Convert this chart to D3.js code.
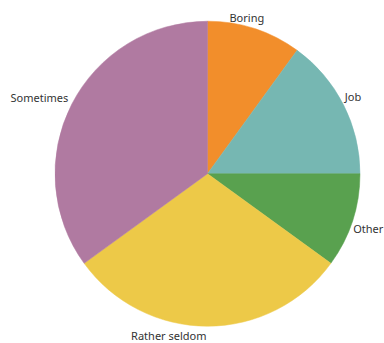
<!DOCTYPE html>
<html>
<head>
<meta charset="utf-8">
<script src="https://cdn.jsdelivr.net/npm/d3@7"></script>
<style>
  html, body { margin: 0; padding: 0; background: #fff; }
  svg { display: block; }
</style>
</head>
<body>
<svg id="chart" width="384" height="343"></svg>
<script>
// Answer categories, in drawing order (clockwise from 12 o'clock)
const categories = ["Boring", "Job", "Other", "Rather seldom", "Sometimes"];
// Share of answers, percent
const shares = [10, 15, 10, 30, 35];
// Slice colours (Tableau 10)
const colors = ["#f28e2b", "#76b7b2", "#59a14f", "#edc948", "#b07aa1"];
// Label anchoring and small nudges so labels clear the rim
const labelAnchor = ["start", "start", "start", "end", "end"];
const labelNudge = [[-27, -1], [-4, -1], [-5, 10], [-1, 8], [2, 0]];

const width = 384, height = 343;
const cx = 207.5, cy = 173.7, radius = 152.5;

const svg = d3.select("#chart");
const g = svg.append("g").attr("transform", `translate(${cx},${cy})`);

const data = categories.map((c, i) => ({ name: c, value: shares[i], color: colors[i], i }));

const pie = d3.pie().sort(null).value(d => d.value);
const arc = d3.arc().innerRadius(0).outerRadius(radius);
const arcs = pie(data);

g.selectAll("path.slice")
  .data(arcs)
  .join("path")
  .attr("class", "slice")
  .attr("d", arc)
  .attr("fill", d => d.data.color)
  .attr("stroke", d => d.data.color)
  .attr("stroke-width", 0.5);

// Labels just outside the rim at each slice's mid-angle
const labelR = radius + 6;
g.selectAll("text.label")
  .data(arcs)
  .join("text")
  .attr("class", "label")
  .attr("x", d => {
    const a = (d.startAngle + d.endAngle) / 2;
    return Math.sin(a) * labelR + labelNudge[d.data.i][0];
  })
  .attr("y", d => {
    const a = (d.startAngle + d.endAngle) / 2;
    return -Math.cos(a) * labelR + labelNudge[d.data.i][1];
  })
  .attr("text-anchor", d => labelAnchor[d.data.i])
  .attr("font-family", "'Noto Sans', sans-serif")
  .attr("font-size", 11)
  .attr("fill", "#333")
  .text(d => d.data.name);
</script>
</body>
</html>
